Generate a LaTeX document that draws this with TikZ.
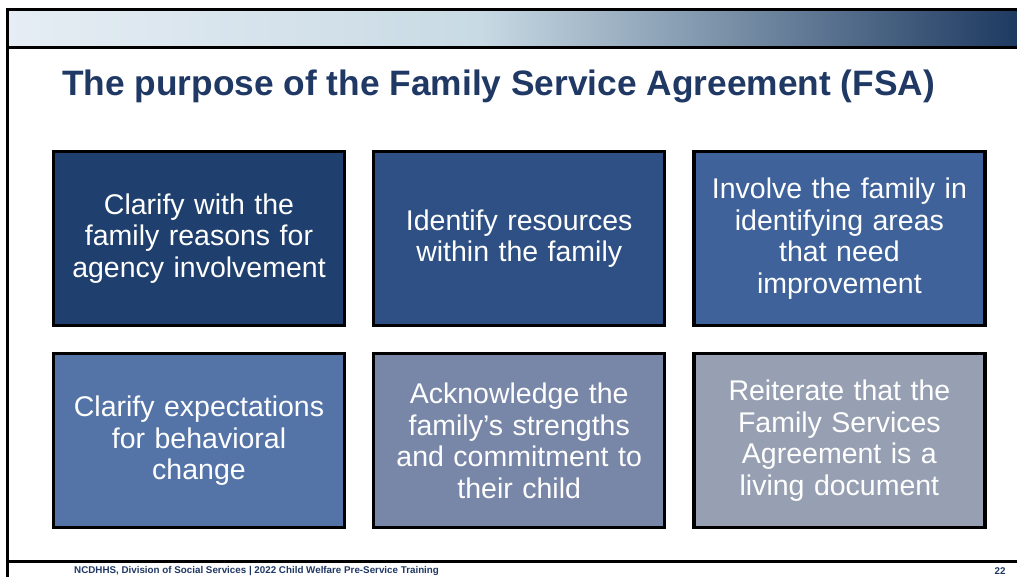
\documentclass[tikz,border=0pt]{standalone}
\usepackage{fontspec}
\setmainfont{Liberation Sans}
\usepackage{tikz}
\usetikzlibrary{positioning}

\definecolor{navy}{RGB}{31,56,100}
\definecolor{boxa}{RGB}{31,63,110}
\definecolor{boxb}{RGB}{46,80,133}
\definecolor{boxc}{RGB}{62,98,153}
\definecolor{boxd}{RGB}{84,116,168}
\definecolor{boxe}{RGB}{120,134,168}
\definecolor{boxf}{RGB}{151,160,178}
\definecolor{barlight}{RGB}{230,237,244}
\definecolor{barmid}{RGB}{200,218,228}
\definecolor{bardark}{RGB}{30,58,97}

\begin{document}
\begin{tikzpicture}[x=1pt, y=-1pt,
	node distance=25pt and 26pt,
	goal/.style={draw=black, line width=3.2pt, minimum width=291pt, minimum height=174pt,
		text=white, text width=280pt, align=center, inner sep=0pt,
		font=\fontsize{28.5}{31.5}\selectfont},
	rule/.style={line width=3pt, black}]
	\useasboundingbox (0,0) rectangle (1017,577);
	\fill[white] (0,0) rectangle (1017,577);
	\shade[left color=barlight, right color=barmid] (9,11) rectangle (480,46);
	\shade[left color=barmid, right color=bardark] (479,11) rectangle (1017,46);
	
	\coordinate (tl) at (7.5,9.5);
	\coordinate (tr) at (1017,9.5);
	\coordinate (ml) at (7.5,47.5);
	\coordinate (mr) at (1017,47.5);
	\coordinate (bl) at (7.5,561.5);
	\coordinate (br) at (1017,561.5);
	\coordinate (el) at (7.5,577);
	\draw[rule] (tr) -- (tl) -- (el);
	\draw[rule] (ml) -- (mr);
	\draw[rule] (bl) -- (br);
	
	\node[text=navy, font=\fontsize{35.3}{40}\selectfont\bfseries, anchor=west, inner sep=0pt] (title) at (62,86)
		{The purpose of the Family Service Agreement (FSA)};
	
	\node[goal, fill=boxa] (a1) at (199,238.5) {Clarify with the\\family reasons for\\agency involvement};
	\node[goal, fill=boxd, below=of a1] (a2) {Clarify expectations\\for behavioral\\change};
	\node[goal, fill=boxb, right=of a1] (b1) {Identify resources\\within the family};
	\node[goal, fill=boxe, below=of b1] (b2) {Acknowledge the\\family’s strengths\\and commitment to\\their child};
	\node[goal, fill=boxc, right=of b1] (c1) {Involve the family in\\identifying areas\\that need\\improvement};
	\node[goal, fill=boxf, right=of b2] (c2) {Reiterate that the\\Family Services\\Agreement is a\\living document};
	
	\node[text=navy, font=\fontsize{9.8}{11}\selectfont\bfseries, anchor=west, inner sep=0pt] (foot) at (74,571)
		{NCDHHS, Division of Social Services | 2022 Child Welfare Pre-Service Training};
	\node[text=navy, font=\fontsize{9.8}{11}\selectfont\bfseries] (page) at (1000,571) {22};
\end{tikzpicture}
\end{document}
